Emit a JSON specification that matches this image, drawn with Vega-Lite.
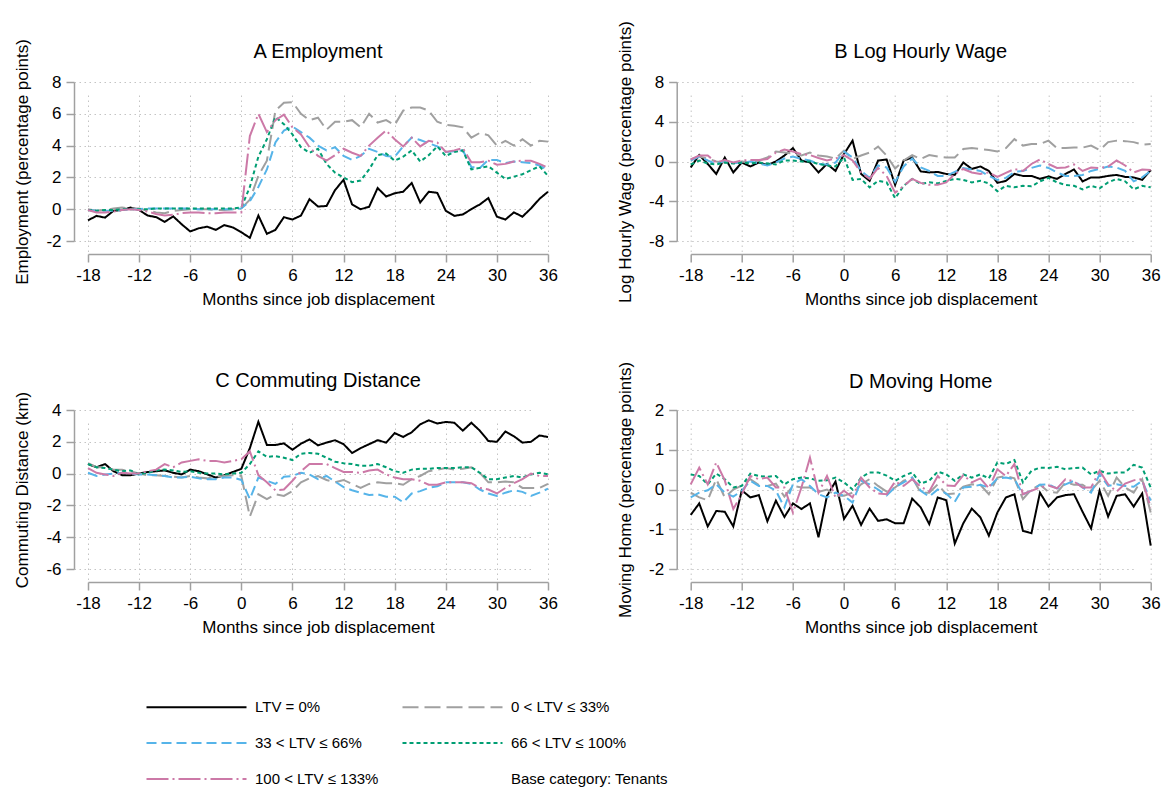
{
  "$schema": "https://vega.github.io/schema/vega-lite/v6.json",
  "padding": {"left": 13, "top": 20, "right": 0, "bottom": 0},
  "background": "white",
  "datasets": {
    "A": [
      {"m":-18,"a":-0.7,"b":0,"c":-0.05,"d":-0.05,"e":-0.05},
      {"m":-17,"a":-0.42,"b":-0.1,"c":-0.1,"d":-0.1,"e":-0.2},
      {"m":-16,"a":-0.53,"b":-0.05,"c":-0.1,"d":-0.05,"e":-0.2},
      {"m":-15,"a":-0.1,"b":0.05,"c":-0.1,"d":-0.05,"e":-0.15},
      {"m":-14,"a":-0.05,"b":0.1,"c":-0.05,"d":0,"e":-0.05},
      {"m":-13,"a":0.1,"b":0.05,"c":0,"d":0,"e":0},
      {"m":-12,"a":-0.05,"b":0.05,"c":0,"d":0,"e":-0.05},
      {"m":-11,"a":-0.4,"b":-0.1,"c":0.05,"d":0,"e":-0.15},
      {"m":-10,"a":-0.5,"b":-0.2,"c":0.05,"d":0.05,"e":-0.3},
      {"m":-9,"a":-0.8,"b":-0.25,"c":0.05,"d":0.05,"e":-0.4},
      {"m":-8,"a":-0.45,"b":-0.1,"c":0.05,"d":0.05,"e":-0.35},
      {"m":-7,"a":-0.95,"b":-0.05,"c":0.05,"d":0.05,"e":-0.25},
      {"m":-6,"a":-1.4,"b":0,"c":0.05,"d":0.05,"e":-0.2},
      {"m":-5,"a":-1.2,"b":0,"c":0,"d":0.05,"e":-0.2},
      {"m":-4,"a":-1.1,"b":0,"c":0,"d":0.05,"e":-0.25},
      {"m":-3,"a":-1.3,"b":-0.05,"c":0,"d":0.05,"e":-0.25},
      {"m":-2,"a":-1.0,"b":-0.05,"c":0,"d":0.05,"e":-0.2},
      {"m":-1,"a":-1.15,"b":0,"c":0,"d":0.05,"e":-0.2},
      {"m":0,"a":-1.45,"b":0.05,"c":0.05,"d":0.1,"e":-0.2},
      {"m":1,"a":-1.8,"b":0.6,"c":0.5,"d":1.4,"e":4.6},
      {"m":2,"a":-0.4,"b":2.1,"c":1.4,"d":3.3,"e":6.0},
      {"m":3,"a":-1.55,"b":3.05,"c":2.5,"d":4.4,"e":4.85},
      {"m":4,"a":-1.3,"b":6.2,"c":4.2,"d":5.8,"e":5.6},
      {"m":5,"a":-0.5,"b":6.7,"c":4.95,"d":5.35,"e":5.95},
      {"m":6,"a":-0.65,"b":6.73,"c":5.2,"d":4.7,"e":5.15},
      {"m":7,"a":-0.4,"b":6.0,"c":4.85,"d":3.9,"e":4.7},
      {"m":8,"a":0.63,"b":5.6,"c":4.5,"d":3.55,"e":3.9},
      {"m":9,"a":0.17,"b":5.75,"c":4.0,"d":3.8,"e":3.35},
      {"m":10,"a":0.2,"b":5.0,"c":3.7,"d":2.85,"e":3.05},
      {"m":11,"a":1.2,"b":5.5,"c":3.9,"d":2.3,"e":3.4},
      {"m":12,"a":1.85,"b":5.5,"c":3.35,"d":2.0,"e":3.8},
      {"m":13,"a":0.3,"b":5.6,"c":3.1,"d":1.7,"e":3.55},
      {"m":14,"a":0.0,"b":5.15,"c":3.35,"d":1.8,"e":3.35},
      {"m":15,"a":0.15,"b":6.0,"c":3.8,"d":2.5,"e":4.0},
      {"m":16,"a":1.33,"b":5.45,"c":3.6,"d":3.4,"e":4.5},
      {"m":17,"a":0.8,"b":5.6,"c":3.35,"d":3.5,"e":4.95},
      {"m":18,"a":1.0,"b":5.3,"c":3.3,"d":3.05,"e":4.4},
      {"m":19,"a":1.1,"b":6.2,"c":3.95,"d":3.3,"e":3.95},
      {"m":20,"a":1.65,"b":6.4,"c":4.5,"d":3.7,"e":4.5},
      {"m":21,"a":0.42,"b":6.4,"c":4.35,"d":3.0,"e":3.95},
      {"m":22,"a":1.1,"b":6.2,"c":4.15,"d":3.4,"e":4.3},
      {"m":23,"a":1.03,"b":5.5,"c":3.95,"d":3.95,"e":4.2},
      {"m":24,"a":-0.1,"b":5.3,"c":3.6,"d":3.35,"e":3.6},
      {"m":25,"a":-0.42,"b":5.25,"c":3.65,"d":3.6,"e":3.7},
      {"m":26,"a":-0.33,"b":5.15,"c":3.7,"d":3.7,"e":3.85},
      {"m":27,"a":0.0,"b":4.5,"c":2.65,"d":2.5,"e":2.95},
      {"m":28,"a":0.3,"b":4.8,"c":2.6,"d":2.6,"e":2.95},
      {"m":29,"a":0.7,"b":4.65,"c":3.1,"d":2.7,"e":3.05},
      {"m":30,"a":-0.47,"b":4.0,"c":3.1,"d":2.3,"e":2.8},
      {"m":31,"a":-0.65,"b":4.3,"c":2.9,"d":1.9,"e":2.85},
      {"m":32,"a":-0.2,"b":4.0,"c":3.0,"d":2.05,"e":3.0},
      {"m":33,"a":-0.47,"b":4.4,"c":2.95,"d":2.2,"e":3.05},
      {"m":34,"a":0.05,"b":4.0,"c":2.9,"d":2.45,"e":3.05},
      {"m":35,"a":0.65,"b":4.3,"c":2.75,"d":2.7,"e":2.85},
      {"m":36,"a":1.1,"b":4.25,"c":2.45,"d":2.1,"e":2.6}
    ],
    "B": [
      {"m":-18,"a":-0.6,"b":0.2,"c":0.1,"d":-0.3,"e":0.2},
      {"m":-17,"a":0.65,"b":0.5,"c":0.5,"d":0.1,"e":0.6},
      {"m":-16,"a":-0.25,"b":0.3,"c":0.1,"d":-0.2,"e":0.6},
      {"m":-15,"a":-1.25,"b":0,"c":-0.25,"d":-0.3,"e":-0.1},
      {"m":-14,"a":0.4,"b":-0.1,"c":0.1,"d":-0.1,"e":0.15},
      {"m":-13,"a":-1.1,"b":-0.2,"c":-0.15,"d":-0.2,"e":-0.1},
      {"m":-12,"a":-0.1,"b":0,"c":-0.1,"d":-0.1,"e":0.1},
      {"m":-11,"a":-0.5,"b":-0.1,"c":0,"d":-0.2,"e":0.15},
      {"m":-10,"a":-0.1,"b":0.1,"c":-0.2,"d":-0.1,"e":0.15},
      {"m":-9,"a":-0.35,"b":0.4,"c":-0.4,"d":-0.2,"e":0.25},
      {"m":-8,"a":0,"b":1.0,"c":-0.1,"d":-0.3,"e":0.9},
      {"m":-7,"a":0.6,"b":0.9,"c":0.3,"d":0.1,"e":1.2},
      {"m":-6,"a":1.35,"b":0.8,"c":0.5,"d":0.1,"e":1.0},
      {"m":-5,"a":0.1,"b":0.6,"c":0.25,"d":0,"e":0.75},
      {"m":-4,"a":-0.1,"b":0.9,"c":0.1,"d":0,"e":0.65},
      {"m":-3,"a":-1.1,"b":0.6,"c":-0.25,"d":-0.25,"e":0.35},
      {"m":-2,"a":-0.25,"b":0.5,"c":-0.3,"d":-0.4,"e":0.1},
      {"m":-1,"a":-0.95,"b":0.3,"c":-0.1,"d":-0.5,"e":0.3},
      {"m":0,"a":0.75,"b":1.1,"c":1.0,"d":0.4,"e":0.65},
      {"m":1,"a":2.1,"b":0.25,"c":0.4,"d":-1.85,"e":0.1},
      {"m":2,"a":-1.25,"b":0.6,"c":-0.95,"d":-1.75,"e":-1.1},
      {"m":3,"a":-1.95,"b":0.9,"c":-1.65,"d":-2.6,"e":-1.75},
      {"m":4,"a":0.1,"b":1.5,"c":-0.4,"d":-1.95,"e":-0.65},
      {"m":5,"a":0.2,"b":0.6,"c":-0.6,"d":-2.1,"e":-1.45},
      {"m":6,"a":-2.35,"b":-0.7,"c":-2.05,"d":-3.7,"e":-3.15},
      {"m":7,"a":0.1,"b":0.1,"c":-0.5,"d":-2.45,"e":-2.45},
      {"m":8,"a":0.4,"b":0.65,"c":0.3,"d":-1.75,"e":-1.75},
      {"m":9,"a":-1.0,"b":0.25,"c":-0.6,"d":-2.25,"e":-2.15},
      {"m":10,"a":-1.1,"b":0.65,"c":-0.95,"d":-2.1,"e":-2.35},
      {"m":11,"a":-1.05,"b":0.5,"c":-1.45,"d":-2.2,"e":-2.35},
      {"m":12,"a":-1.25,"b":0.4,"c":-1.45,"d":-1.95,"e":-2.1},
      {"m":13,"a":-1.35,"b":0.4,"c":-1.05,"d":-1.75,"e":-1.25},
      {"m":14,"a":-0.1,"b":1.25,"c":-0.65,"d":-1.85,"e":-0.75},
      {"m":15,"a":-0.75,"b":1.35,"c":-0.8,"d":-2.1,"e":-1.1},
      {"m":16,"a":-0.5,"b":1.25,"c":-0.95,"d":-1.95,"e":-1.25},
      {"m":17,"a":-0.95,"b":1.15,"c":-1.45,"d":-2.2,"e":-1.1},
      {"m":18,"a":-2.15,"b":1.0,"c":-1.85,"d":-3.0,"e":-1.55},
      {"m":19,"a":-1.95,"b":1.35,"c":-1.65,"d":-2.45,"e":-1.15},
      {"m":20,"a":-1.25,"b":2.25,"c":-1.05,"d":-2.6,"e":-0.75},
      {"m":21,"a":-1.45,"b":1.6,"c":-0.95,"d":-2.45,"e":-0.95},
      {"m":22,"a":-1.45,"b":1.75,"c":-0.65,"d":-2.5,"e":-0.25},
      {"m":23,"a":-1.75,"b":1.75,"c":-0.4,"d":-2.0,"e":0.2},
      {"m":24,"a":-1.5,"b":2.1,"c":-0.65,"d":-1.65,"e":-0.25},
      {"m":25,"a":-1.75,"b":1.35,"c":-1.1,"d":-2.1,"e":-0.65},
      {"m":26,"a":-1.25,"b":1.35,"c":-1.45,"d":-2.35,"e":-0.6},
      {"m":27,"a":-0.8,"b":1.4,"c":-1.45,"d":-2.45,"e":-0.3},
      {"m":28,"a":-2.0,"b":1.4,"c":-1.35,"d":-2.8,"e":-0.95},
      {"m":29,"a":-1.6,"b":1.6,"c":-0.95,"d":-2.45,"e":-0.6},
      {"m":30,"a":-1.6,"b":1.15,"c":-0.75,"d":-2.7,"e":-0.65},
      {"m":31,"a":-1.45,"b":1.95,"c":-0.5,"d":-2.1,"e":-0.5},
      {"m":32,"a":-1.35,"b":2.1,"c":-0.6,"d":-1.75,"e":0.1},
      {"m":33,"a":-1.55,"b":2.05,"c":-0.95,"d":-2.0,"e":-0.4},
      {"m":34,"a":-1.6,"b":1.95,"c":-2.0,"d":-2.8,"e":-1.1},
      {"m":35,"a":-1.85,"b":1.7,"c":-1.6,"d":-2.45,"e":-0.8},
      {"m":36,"a":-0.85,"b":1.75,"c":-0.95,"d":-2.6,"e":-0.85}
    ],
    "C": [
      {"m":-18,"a":0.6,"b":0.65,"c":0.05,"d":0.6,"e":0.35},
      {"m":-17,"a":0.4,"b":0.4,"c":-0.15,"d":0.4,"e":0.05},
      {"m":-16,"a":0.6,"b":0.4,"c":-0.05,"d":0.35,"e":-0.05},
      {"m":-15,"a":0.15,"b":0.25,"c":0,"d":0.25,"e":-0.15},
      {"m":-14,"a":-0.1,"b":0.25,"c":0.05,"d":0.15,"e":0.05},
      {"m":-13,"a":-0.1,"b":0.15,"c":0,"d":0.2,"e":0},
      {"m":-12,"a":0,"b":0,"c":-0.05,"d":-0.05,"e":0},
      {"m":-11,"a":0.1,"b":-0.1,"c":-0.05,"d":0.05,"e":0.15},
      {"m":-10,"a":0.15,"b":-0.1,"c":-0.1,"d":0.2,"e":0.25},
      {"m":-9,"a":0.2,"b":-0.15,"c":-0.15,"d":0.25,"e":0.6},
      {"m":-8,"a":0.05,"b":-0.2,"c":-0.25,"d":0.2,"e":0.4},
      {"m":-7,"a":-0.05,"b":-0.25,"c":-0.25,"d":0.1,"e":0.7},
      {"m":-6,"a":0.25,"b":-0.15,"c":-0.2,"d":0.15,"e":0.8},
      {"m":-5,"a":0.15,"b":-0.25,"c":-0.3,"d":0.05,"e":0.9},
      {"m":-4,"a":-0.05,"b":-0.3,"c":-0.35,"d":0,"e":0.8},
      {"m":-3,"a":-0.25,"b":-0.2,"c":-0.35,"d":0,"e":0.8},
      {"m":-2,"a":-0.1,"b":-0.15,"c":-0.25,"d":-0.05,"e":0.7},
      {"m":-1,"a":0.1,"b":-0.1,"c":-0.25,"d":0,"e":0.8},
      {"m":0,"a":0.3,"b":-0.15,"c":-0.4,"d":0.05,"e":0.9},
      {"m":1,"a":1.6,"b":-2.7,"c":-1.6,"d":0.6,"e":1.4},
      {"m":2,"a":3.26,"b":-1.3,"c":-0.25,"d":1.4,"e":-0.1},
      {"m":3,"a":1.8,"b":-1.6,"c":-0.45,"d":1.05,"e":-0.55},
      {"m":4,"a":1.8,"b":-1.3,"c":-0.65,"d":1.1,"e":-1.05},
      {"m":5,"a":1.9,"b":-1.4,"c":-0.2,"d":1.0,"e":-1.0},
      {"m":6,"a":1.5,"b":-1.1,"c":-0.15,"d":0.85,"e":-0.45},
      {"m":7,"a":1.88,"b":-0.55,"c":0.05,"d":1.25,"e":0.15},
      {"m":8,"a":2.15,"b":-0.3,"c":-0.05,"d":1.3,"e":0.6},
      {"m":9,"a":1.78,"b":-0.15,"c":-0.35,"d":1.25,"e":0.6},
      {"m":10,"a":1.95,"b":-0.4,"c":-0.15,"d":1.0,"e":0.6},
      {"m":11,"a":2.1,"b":-0.55,"c":-0.5,"d":0.75,"e":0.35},
      {"m":12,"a":1.85,"b":-0.4,"c":-0.85,"d":0.65,"e":0.1},
      {"m":13,"a":1.3,"b":-0.65,"c":-1.05,"d":0.6,"e":0.1},
      {"m":14,"a":1.6,"b":-0.9,"c":-1.2,"d":0.5,"e":0.05},
      {"m":15,"a":1.85,"b":-0.65,"c":-1.35,"d":0.5,"e":0.2},
      {"m":16,"a":2.1,"b":-0.55,"c":-1.3,"d":0.6,"e":0.25},
      {"m":17,"a":1.95,"b":-0.6,"c":-1.45,"d":0.4,"e":-0.05},
      {"m":18,"a":2.55,"b":-0.6,"c":-1.45,"d":0.15,"e":-0.25},
      {"m":19,"a":2.3,"b":-0.7,"c":-1.8,"d":0.05,"e":-0.35},
      {"m":20,"a":2.6,"b":-0.35,"c":-1.25,"d":0.25,"e":-0.35},
      {"m":21,"a":3.1,"b":-0.15,"c":-1.1,"d":0.3,"e":-0.45},
      {"m":22,"a":3.35,"b":0.15,"c":-0.9,"d":0.3,"e":-0.7},
      {"m":23,"a":3.15,"b":0.25,"c":-0.8,"d":0.35,"e":-0.7},
      {"m":24,"a":3.25,"b":0.35,"c":-0.55,"d":0.35,"e":-0.55},
      {"m":25,"a":3.2,"b":0.25,"c":-0.55,"d":0.35,"e":-0.55},
      {"m":26,"a":2.7,"b":0.3,"c":-0.55,"d":0.4,"e":-0.55},
      {"m":27,"a":3.2,"b":0.4,"c":-0.65,"d":0.4,"e":-0.6},
      {"m":28,"a":2.7,"b":0.05,"c":-1.0,"d":0.05,"e":-0.9},
      {"m":29,"a":2.05,"b":-0.55,"c":-1.25,"d":-0.35,"e":-1.0},
      {"m":30,"a":2.0,"b":-0.55,"c":-1.4,"d":-0.35,"e":-1.25},
      {"m":31,"a":2.65,"b":-0.5,"c":-1.2,"d":-0.25,"e":-0.9},
      {"m":32,"a":2.35,"b":-0.55,"c":-1.05,"d":-0.15,"e":-0.6},
      {"m":33,"a":1.95,"b":-0.9,"c":-1.15,"d":-0.25,"e":-0.35},
      {"m":34,"a":2.0,"b":-0.9,"c":-1.4,"d":-0.05,"e":0},
      {"m":35,"a":2.4,"b":-0.9,"c":-1.2,"d":0.05,"e":-0.15},
      {"m":36,"a":2.3,"b":-0.65,"c":-0.95,"d":-0.05,"e":-0.15}
    ],
    "D": [
      {"m":-18,"a":-0.64,"b":-0.08,"c":-0.2,"d":0.38,"e":0.13},
      {"m":-17,"a":-0.35,"b":-0.2,"c":-0.08,"d":0.34,"e":0.55},
      {"m":-16,"a":-0.93,"b":-0.27,"c":-0.02,"d":0.13,"e":0.13},
      {"m":-15,"a":-0.54,"b":0.26,"c":0.13,"d":0.4,"e":0.68},
      {"m":-14,"a":-0.56,"b":-0.2,"c":-0.08,"d":0.26,"e":0.23},
      {"m":-13,"a":-0.93,"b":0,"c":-0.18,"d":0.05,"e":-0.49},
      {"m":-12,"a":-0.02,"b":0.1,"c":-0.03,"d":0.09,"e":-0.12},
      {"m":-11,"a":-0.2,"b":0.26,"c":0.22,"d":0.4,"e":0.34},
      {"m":-10,"a":-0.14,"b":0.11,"c":0.09,"d":0.34,"e":0.26},
      {"m":-9,"a":-0.8,"b":0.09,"c":0.09,"d":0.32,"e":0.3},
      {"m":-8,"a":-0.28,"b":0.15,"c":-0.03,"d":0.34,"e":0.05},
      {"m":-7,"a":-0.69,"b":-0.18,"c":-0.45,"d":0.13,"e":0.05},
      {"m":-6,"a":-0.35,"b":0.09,"c":0.13,"d":0.26,"e":-0.58},
      {"m":-5,"a":-0.49,"b":0.05,"c":0.26,"d":0.3,"e":0.05},
      {"m":-4,"a":-0.35,"b":0.05,"c":0.09,"d":0.28,"e":0.8},
      {"m":-3,"a":-1.2,"b":-0.06,"c":-0.12,"d":0.22,"e":-0.08},
      {"m":-2,"a":-0.16,"b":0,"c":-0.2,"d":0.23,"e":0.34},
      {"m":-1,"a":0.2,"b":-0.16,"c":-0.08,"d":0.3,"e":-0.2},
      {"m":0,"a":-0.74,"b":-0.16,"c":-0.16,"d":0.18,"e":-0.03},
      {"m":1,"a":-0.41,"b":-0.08,"c":-0.33,"d":0,"e":-0.2},
      {"m":2,"a":-0.89,"b":0.13,"c":0.22,"d":0.3,"e":0.3},
      {"m":3,"a":-0.48,"b":0.26,"c":0.13,"d":0.43,"e":0.05},
      {"m":4,"a":-0.79,"b":0.09,"c":0,"d":0.43,"e":-0.1},
      {"m":5,"a":-0.75,"b":-0.05,"c":-0.15,"d":0.35,"e":-0.12},
      {"m":6,"a":-0.85,"b":0.05,"c":0.06,"d":0.22,"e":0.2},
      {"m":7,"a":-0.85,"b":0.22,"c":0.18,"d":0.34,"e":0.09},
      {"m":8,"a":-0.23,"b":0.3,"c":0.3,"d":0.43,"e":0.26},
      {"m":9,"a":-0.45,"b":-0.08,"c":-0.03,"d":0.15,"e":0.07},
      {"m":10,"a":-0.87,"b":-0.08,"c":-0.18,"d":0.22,"e":-0.05},
      {"m":11,"a":-0.2,"b":0.13,"c":0,"d":0.45,"e":0.34},
      {"m":12,"a":-0.27,"b":-0.12,"c":-0.1,"d":0.38,"e":0.1},
      {"m":13,"a":-1.36,"b":-0.1,"c":-0.31,"d":0.22,"e":0.09},
      {"m":14,"a":-0.85,"b":0.07,"c":0.05,"d":0.38,"e":0.36},
      {"m":15,"a":-0.48,"b":0.13,"c":0.07,"d":0.3,"e":0.18},
      {"m":16,"a":-0.7,"b":0.12,"c":0.12,"d":0.38,"e":0.28},
      {"m":17,"a":-1.16,"b":-0.12,"c":0.05,"d":0.28,"e":0.03},
      {"m":18,"a":-0.58,"b":0.3,"c":0.28,"d":0.68,"e":0.51},
      {"m":19,"a":-0.2,"b":0.34,"c":0.3,"d":0.64,"e":0.34},
      {"m":20,"a":-0.12,"b":0.28,"c":0.26,"d":0.74,"e":0.64},
      {"m":21,"a":-1.04,"b":-0.24,"c":-0.12,"d":0.18,"e":-0.12},
      {"m":22,"a":-1.1,"b":0,"c":-0.03,"d":0.47,"e":-0.03},
      {"m":23,"a":-0.08,"b":0.12,"c":0.12,"d":0.55,"e":0.05},
      {"m":24,"a":-0.43,"b":-0.06,"c":0.13,"d":0.54,"e":0.1},
      {"m":25,"a":-0.2,"b":-0.08,"c":0.03,"d":0.57,"e":0.03},
      {"m":26,"a":-0.14,"b":0.18,"c":0.13,"d":0.51,"e":0.26},
      {"m":27,"a":-0.12,"b":0.12,"c":0.22,"d":0.54,"e":0.2},
      {"m":28,"a":-0.56,"b":0.12,"c":0.05,"d":0.55,"e":0.05},
      {"m":29,"a":-0.98,"b":-0.03,"c":-0.08,"d":0.38,"e":0.05},
      {"m":30,"a":-0.03,"b":0.22,"c":0.38,"d":0.47,"e":0.47},
      {"m":31,"a":-0.68,"b":-0.16,"c":0.09,"d":0.4,"e":0.13},
      {"m":32,"a":-0.16,"b":0.3,"c":0.13,"d":0.43,"e":-0.05},
      {"m":33,"a":-0.12,"b":0.05,"c":0.09,"d":0.43,"e":0.15},
      {"m":34,"a":-0.43,"b":-0.08,"c":0.07,"d":0.62,"e":0.23},
      {"m":35,"a":-0.1,"b":0.26,"c":0.22,"d":0.55,"e":0.26},
      {"m":36,"a":-1.41,"b":-0.58,"c":-0.28,"d":0.05,"e":-0.45}
    ]
  },
  "columns": 2,
  "spacing": {"row": 54, "column": 57.7},
  "concat": [
    {
      "title": {"text": "A Employment", "offset": -23.3},
      "width": 460, "height": 159,
      "data": {"name": "A"},
      "transform": [{"fold": ["a","b","c","d","e"], "as": ["s","v"]}],
      "mark": {"type": "line", "strokeWidth": 2},
      "encoding": {
        "x": {"field": "m", "type": "quantitative", "scale": {"domain": [-18,36], "nice": false}, "axis": {"values": [-18,-12,-6,0,6,12,18,24,30,36], "title": "Months since job displacement"}},
        "y": {"field": "v", "type": "quantitative", "scale": {"domain": [-2,8], "nice": false, "zero": false}, "axis": {"values": [-2,0,2,4,6,8], "title": "Employment (percentage points)"}},
        "color": {"field": "s", "type": "nominal", "scale": {"domain": ["a","b","c","d","e","f"], "range": ["#000000","#a0a0a0","#56b4e9","#009e73","#cc79a7","transparent"]},
          "legend": {"direction": "horizontal", "columns": 2, "labelExpr": "datum.value == 'a' ? 'LTV = 0%' : datum.value == 'b' ? '0 < LTV ≤ 33%' : datum.value == 'c' ? '33 < LTV ≤ 66%' : datum.value == 'd' ? '66 < LTV ≤ 100%' : datum.value == 'e' ? '100 < LTV ≤ 133%' : 'Base category: Tenants'"}},
        "strokeDash": {"field": "s", "type": "nominal", "scale": {"domain": ["a","b","c","d","e","f"], "range": [[1,0],[16,6],[10,5],[4,3],[22,4,2,4],[1,0]]},
          "legend": {"direction": "horizontal", "columns": 2, "labelExpr": "datum.value == 'a' ? 'LTV = 0%' : datum.value == 'b' ? '0 < LTV ≤ 33%' : datum.value == 'c' ? '33 < LTV ≤ 66%' : datum.value == 'd' ? '66 < LTV ≤ 100%' : datum.value == 'e' ? '100 < LTV ≤ 133%' : 'Base category: Tenants'"}}
      }
    },
    {
      "title": {"text": "B Log Hourly Wage", "offset": -41.3},
      "width": 460, "height": 159,
      "data": {"name": "B"},
      "transform": [{"fold": ["a","b","c","d","e"], "as": ["s","v"]}],
      "mark": {"type": "line", "strokeWidth": 2},
      "encoding": {
        "x": {"field": "m", "type": "quantitative", "scale": {"domain": [-18,36], "nice": false}, "axis": {"values": [-18,-12,-6,0,6,12,18,24,30,36], "title": "Months since job displacement"}},
        "y": {"field": "v", "type": "quantitative", "scale": {"domain": [-8,8], "nice": false, "zero": false}, "axis": {"values": [-8,-4,0,4,8], "title": "Log Hourly Wage (percentage points)"}},
        "color": {"field": "s", "type": "nominal", "scale": {"domain": ["a","b","c","d","e","f"], "range": ["#000000","#a0a0a0","#56b4e9","#009e73","#cc79a7","transparent"]}},
        "strokeDash": {"field": "s", "type": "nominal", "scale": {"domain": ["a","b","c","d","e","f"], "range": [[1,0],[16,6],[10,5],[4,3],[22,4,2,4],[1,0]]}}
      }
    },
    {
      "title": {"text": "C Commuting Distance", "offset": 0},
      "width": 460, "height": 159,
      "data": {"name": "C"},
      "transform": [{"fold": ["a","b","c","d","e"], "as": ["s","v"]}],
      "mark": {"type": "line", "strokeWidth": 2},
      "encoding": {
        "x": {"field": "m", "type": "quantitative", "scale": {"domain": [-18,36], "nice": false}, "axis": {"values": [-18,-12,-6,0,6,12,18,24,30,36], "title": "Months since job displacement"}},
        "y": {"field": "v", "type": "quantitative", "scale": {"domain": [-6,4], "nice": false, "zero": false}, "axis": {"values": [-6,-4,-2,0,2,4], "title": "Commuting Distance (km)"}},
        "color": {"field": "s", "type": "nominal", "scale": {"domain": ["a","b","c","d","e","f"], "range": ["#000000","#a0a0a0","#56b4e9","#009e73","#cc79a7","transparent"]}},
        "strokeDash": {"field": "s", "type": "nominal", "scale": {"domain": ["a","b","c","d","e","f"], "range": [[1,0],[16,6],[10,5],[4,3],[22,4,2,4],[1,0]]}}
      }
    },
    {
      "title": {"text": "D Moving Home", "offset": -31},
      "width": 460, "height": 159,
      "data": {"name": "D"},
      "transform": [{"fold": ["a","b","c","d","e"], "as": ["s","v"]}],
      "mark": {"type": "line", "strokeWidth": 2},
      "encoding": {
        "x": {"field": "m", "type": "quantitative", "scale": {"domain": [-18,36], "nice": false}, "axis": {"values": [-18,-12,-6,0,6,12,18,24,30,36], "title": "Months since job displacement"}},
        "y": {"field": "v", "type": "quantitative", "scale": {"domain": [-2,2], "nice": false, "zero": false}, "axis": {"values": [-2,-1,0,1,2], "title": "Moving Home (percentage points)"}},
        "color": {"field": "s", "type": "nominal", "scale": {"domain": ["a","b","c","d","e","f"], "range": ["#000000","#a0a0a0","#56b4e9","#009e73","#cc79a7","transparent"]}},
        "strokeDash": {"field": "s", "type": "nominal", "scale": {"domain": ["a","b","c","d","e","f"], "range": [[1,0],[16,6],[10,5],[4,3],[22,4,2,4],[1,0]]}}
      }
    }
  ],
  "config": {
    "view": {"stroke": null},
    "font": "Liberation Sans",
    "title": {"fontSize": 20, "fontWeight": "normal", "font": "Liberation Sans", "frame": "group", "color": "#000000"},
    "axis": {
      "domainColor": "#a0a0a0", "domainWidth": 1.5,
      "tickColor": "#a0a0a0", "tickWidth": 1.5, "tickSize": 8,
      "gridColor": "#c4c4c4", "gridDash": [1.5, 3.5], "gridWidth": 1,
      "labelFont": "Liberation Sans", "labelFontSize": 17, "labelColor": "#000000", "labelPadding": 5,
      "labelFlush": false, "labelOverlap": false,
      "labelExpr": "'' + datum.value",
      "titleFont": "Liberation Sans", "titleFontSize": 17, "titleFontWeight": "normal", "titleColor": "#000000"
    },
    "axisX": {"offset": 13, "titlePadding": 8},
    "axisY": {"offset": 14, "titlePadding": 14},
    "legend": {
      "title": null,
      "orient": "none",
      "legendX": 59.5,
      "legendY": 617.5,
      "columns": 2,
      "direction": "horizontal",
      "symbolType": "M-10,0H10",
      "symbolSize": 100,
      "symbolStrokeWidth": 2,
      "symbolOffset": 41.5,
      "labelOffset": 51,
      "labelFont": "Liberation Sans",
      "labelFontSize": 15,
      "labelColor": "#000000",
      "labelLimit": 400,
      "rowPadding": 20,
      "columnPadding": 20
    }
  }
}
